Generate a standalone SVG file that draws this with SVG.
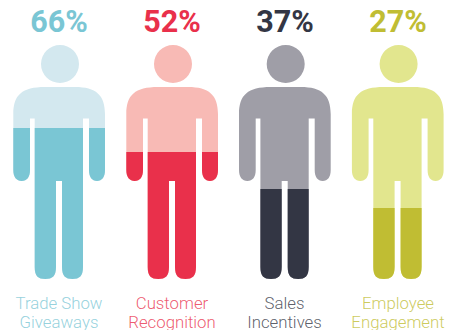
<svg xmlns="http://www.w3.org/2000/svg" width="454" height="330" viewBox="0 0 454 330">
<style>
.pct{font:700 30.500px Roboto,"Liberation Sans",sans-serif;text-anchor:middle}
.lbl{font:300 16.800px Roboto,"Liberation Sans",sans-serif;text-anchor:middle}
</style>
<defs>
<path id="p" d="M13.300 114C13.300 95 22 87 45 87H75C96 87 105 95 105 114V170C105 177 102 181 97 181C92 181 89 177 89 170V118.500H83V267C83 276 79.500 279 72.500 279C65.500 279 62 276 62 267V181H56V267C56 276 52.500 279 45.300 279C38 279 34.700 276 34.700 267V118.500H30V170C30 177 27 181 21.700 181C16.500 181 13.300 177 13.300 170ZM79 64A19 19 0 1 1 41 64A19 19 0 1 1 79 64Z"/>
<clipPath id="c1"><rect x="0" y="128" width="120" height="160"/></clipPath>
<clipPath id="c2"><rect x="0" y="152" width="120" height="140"/></clipPath>
<clipPath id="c3"><rect x="0" y="189" width="120" height="100"/></clipPath>
<clipPath id="c4"><rect x="0" y="208" width="120" height="80"/></clipPath>
</defs>
<g id="connectors"/>
<g id="fig1">
<text class="pct" x="59" y="31.500" fill="#7AC6D4">66%</text>
<use href="#p" fill="#D3E8EF"/>
<use href="#p" fill="#7AC6D4" clip-path="url(#c1)"/>
<text class="lbl" x="59" y="309" fill="#7AC6D4" fill-opacity=".8">Trade Show</text>
<text class="lbl" x="59" y="327.500" fill="#7AC6D4" fill-opacity=".8">Giveaways</text>
</g>
<g id="fig2">
<text class="pct" x="172" y="31.500" fill="#E9304B">52%</text>
<g transform="translate(113)"><use href="#p" fill="#F8BAB5"/>
<use href="#p" fill="#E9304B" clip-path="url(#c2)"/></g>
<text class="lbl" x="172" y="309" fill="#E9304B" fill-opacity=".8">Customer</text>
<text class="lbl" x="172" y="327.500" fill="#E9304B" fill-opacity=".8">Recognition</text>
</g>
<g id="fig3">
<text class="pct" x="285" y="31.500" fill="#333644">37%</text>
<g transform="translate(225.700)"><use href="#p" fill="#9F9EA7"/>
<use href="#p" fill="#333644" clip-path="url(#c3)"/></g>
<text class="lbl" x="284.500" y="309" fill="#333644" fill-opacity=".8">Sales</text>
<text class="lbl" x="284.500" y="327.500" fill="#333644" fill-opacity=".8">Incentives</text>
</g>
<g id="fig4">
<text class="pct" x="398" y="31.500" fill="#C0BD33">27%</text>
<g transform="translate(338.600)"><use href="#p" fill="#E2E68E"/>
<use href="#p" fill="#C0BD33" clip-path="url(#c4)"/></g>
<text class="lbl" x="398" y="309" fill="#C0BD33" fill-opacity=".8">Employee</text>
<text class="lbl" x="398" y="327.500" fill="#C0BD33" fill-opacity=".8">Engagement</text>
</g>
</svg>
